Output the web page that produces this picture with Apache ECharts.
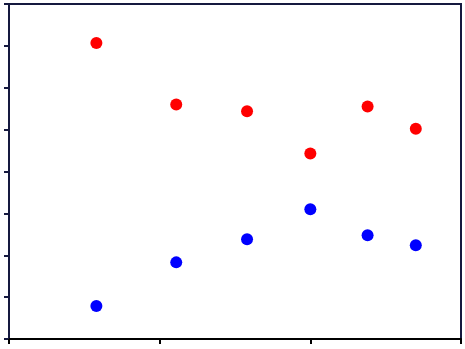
<!DOCTYPE html>
<html><head><meta charset="utf-8">
<script src="https://cdn.jsdelivr.net/npm/echarts@6/dist/echarts.min.js"></script>
<style>html,body{margin:0;padding:0;background:#fff}#c{width:465px;height:349px}</style>
</head><body><div id="c"></div>
<script>
const xRed = [0.58, 1.11, 1.58, 2.0, 2.38, 2.7];
const yRed = [7.07, 5.60, 5.44, 4.43, 5.55, 5.02];
const xBlue = [0.58, 1.11, 1.58, 2.0, 2.38, 2.7];
const yBlue = [0.79, 1.83, 2.38, 3.10, 2.48, 2.24];

const chart = echarts.init(document.getElementById('c'));
chart.setOption({
  animation: false,
  grid: {left: 9, right: 4, top: 4, bottom: 10, show: true, borderColor: '#15193f', borderWidth: 2, backgroundColor: '#fff'},
  xAxis: {type: 'value', min: 0, max: 3, interval: 1,
    axisLine: {show: true, lineStyle: {color: '#000', width: 2}},
    axisTick: {show: true, inside: false, length: 5, lineStyle: {color: '#000', width: 2}},
    axisLabel: {show: false}, splitLine: {show: false}},
  yAxis: {type: 'value', min: 0, max: 8, interval: 1,
    axisLine: {show: true, lineStyle: {color: '#15193f', width: 2}},
    axisTick: {show: true, inside: false, length: 5, lineStyle: {color: '#15193f', width: 2}},
    axisLabel: {show: false}, splitLine: {show: false}},
  series: [
    {type: 'scatter', symbolSize: 12, itemStyle: {color: '#ff0000', opacity: 1},
      data: xRed.map((x, i) => [x, yRed[i]])},
    {type: 'scatter', symbolSize: 12, itemStyle: {color: '#0000ff', opacity: 1},
      data: xBlue.map((x, i) => [x, yBlue[i]])}
  ]
});
</script></body></html>
